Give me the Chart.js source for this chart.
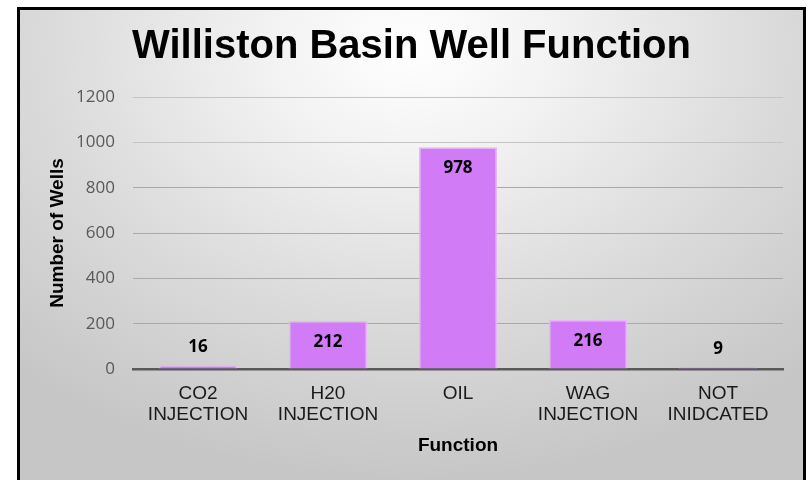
<!DOCTYPE html>
<html>
<head>
<meta charset="utf-8">
<script src="https://cdn.jsdelivr.net/npm/chart.js@4/dist/chart.umd.min.js"></script>
<style>
  html, body { margin: 0; padding: 0; background: #ffffff; width: 808px; height: 480px; overflow: hidden; }
  #frame {
    position: absolute; left: 17px; top: 7px; width: 783px; height: 480px;
    border-left: 3px solid #000; border-top: 3px solid #000; border-right: 3px solid #000;
    background: radial-gradient(ellipse 75% 90% at 50% 8%, #ffffff 0%, #f2f2f2 25%, #dcdcdc 60%, #c6c6c6 100%);
  }
  #wrap { position: absolute; left: 0; top: 0; width: 783px; height: 470px; }
</style>
</head>
<body>
<div id="frame"><div id="wrap"><canvas id="c" width="783" height="470"></canvas></div></div>
<script>
const categories = [["CO2", "INJECTION"], ["H20", "INJECTION"], ["OIL"], ["WAG", "INJECTION"], ["NOT", "INIDCATED"]];
const wells = [16, 212, 978, 216, 9];
const yTicks = [0, 200, 400, 600, 800, 1000, 1200];
const chartTitle = "Williston Basin Well Function";
const xTitle = "Function";
const yTitle = "Number of Wells";

const labelPlugin = {
  id: 'barLabels',
  afterDatasetsDraw(chart) {
    const ctx = chart.ctx;
    const meta = chart.getDatasetMeta(0);
    ctx.save();
    ctx.font = 'bold 17px "Open Sans"';
    ctx.fillStyle = '#000000';
    ctx.textAlign = 'center';
    ctx.textBaseline = 'middle';
    meta.data.forEach((bar, i) => {
      const h = bar.base - bar.y;
      const y = h > 40 ? bar.y + 21 : bar.y - 18;
      ctx.fillText(String(wells[i]), bar.x, y);
    });
    ctx.restore();
  }
};

new Chart(document.getElementById('c'), {
  type: 'bar',
  data: {
    labels: categories,
    datasets: [{
      data: wells,
      backgroundColor: '#d27bf7',
      borderColor: '#e7b6f9',
      borderWidth: 1.5,
      barPercentage: 0.6,
      categoryPercentage: 1.0
    }]
  },
  options: {
    responsive: false,
    animation: false,
    layout: { padding: { left: 20, right: 20, top: 0, bottom: 0 } },
    plugins: {
      legend: { display: false },
      tooltip: { enabled: false },
      title: {
        display: true,
        text: chartTitle,
        color: '#000000',
        font: { family: '"Liberation Sans", Arial, sans-serif', size: 40, weight: 'bold', lineHeight: 1.175 },
        padding: { top: 13, bottom: 27 }
      }
    },
    scales: {
      x: {
        grid: { display: false, drawTicks: false },
        border: { display: true, color: '#595959', width: 2.5 },
        ticks: {
          color: '#1a1a1a',
          font: { family: '"Liberation Sans", Arial, sans-serif', size: 19, lineHeight: 1.1 },
          padding: 14,
          maxRotation: 0,
          autoSkip: false
        },
        title: {
          display: true,
          text: xTitle,
          color: '#000000',
          font: { family: '"Liberation Sans", Arial, sans-serif', size: 19, weight: 'bold', lineHeight: 1.2 },
          padding: { top: 0, bottom: 23 }
        },
        afterFit(scale) { scale.height = 111; }
      },
      y: {
        min: 0,
        max: 1200,
        afterBuildTicks(scale) { scale.ticks = yTicks.map(v => ({ value: v })); },
        grid: {
          drawTicks: false,
          color: (c) => {
            if (!c.tick || c.tick.value === 0) return 'rgba(0,0,0,0)';
            return c.tick.value >= 1000 ? '#c4c4c4' : '#a9a9a9';
          },
          lineWidth: 1
        },
        border: { display: false },
        ticks: {
          color: '#595959',
          font: { family: '"Open Sans", sans-serif', size: 17 },
          padding: 18,
          callback: (v) => String(v)
        },
        title: {
          display: true,
          text: yTitle,
          color: '#000000',
          font: { family: '"Liberation Sans", Arial, sans-serif', size: 19, weight: 'bold', lineHeight: 1.2 },
          padding: { top: 6, bottom: 0 }
        },
        afterFit(scale) { scale.width = 93; }
      }
    }
  },
  plugins: [labelPlugin]
});
</script>
</body>
</html>
